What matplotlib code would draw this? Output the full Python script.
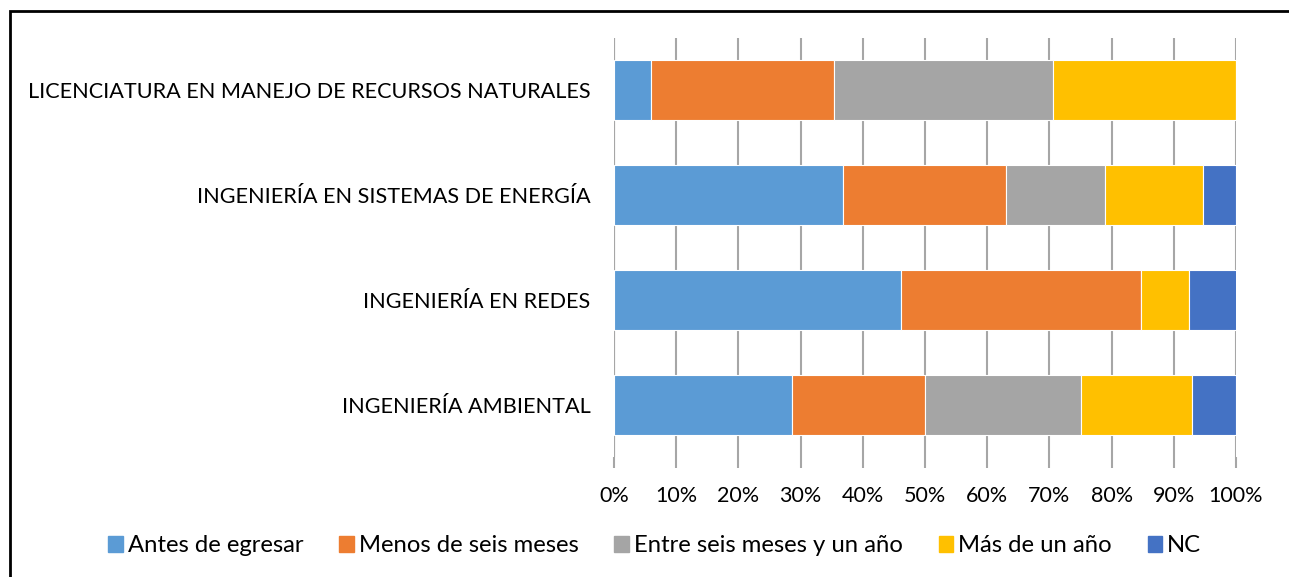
import matplotlib.pyplot as plt
import matplotlib.patches as mpatches
import numpy as np

plt.rcParams['font.family'] = ['Lato', 'DejaVu Sans']

carreras = ['INGENIERÍA AMBIENTAL', 'INGENIERÍA EN REDES',
            'INGENIERÍA EN SISTEMAS DE ENERGÍA',
            'LICENCIATURA EN MANEJO DE RECURSOS NATURALES']
series = ['Antes de egresar', 'Menos de seis meses', 'Entre seis meses y un año',
          'Más de un año', 'NC']
antes = [28.6, 46.2, 36.8, 5.9]
menos_seis = [21.4, 38.5, 26.3, 29.4]
entre = [25.0, 0.0, 15.8, 35.3]
mas_anio = [17.9, 7.7, 15.8, 29.4]
nc = [7.1, 7.7, 5.3, 0.0]
colores = ['#5B9BD5', '#ED7D31', '#A5A5A5', '#FFC000', '#4472C4']

fig = plt.figure(figsize=(12.89, 5.77), dpi=100)
ax = fig.add_axes([614/1289, 1 - 457/577, 622/1289, 419/577])

y = np.arange(len(carreras))
left = np.zeros(len(carreras))
for vals, nombre, c in zip([antes, menos_seis, entre, mas_anio, nc], series, colores):
    ax.barh(y, vals, left=left, height=0.575, color=c, edgecolor='white',
            linewidth=0.8, label=nombre, zorder=3)
    left += np.array(vals)

ax.set_xlim(0, 100)
ax.set_ylim(-0.5, 3.5)
ax.set_xticks(np.arange(0, 101, 10))
ax.set_xticklabels([f'{v}%' for v in range(0, 101, 10)], fontsize=15.5)
ax.set_yticks(y)
ax.set_yticklabels(carreras, fontsize=15.6)
ax.tick_params(axis='y', length=0, pad=17)
ax.tick_params(axis='x', length=8, color='#a6a6a6', width=1.5, pad=13)
ax.grid(axis='x', color='#a6a6a6', linewidth=1.5, zorder=0)
for s in ax.spines.values():
    s.set_visible(False)
ax.axvline(0, color='#8c8c8c', linewidth=1.5, zorder=1)

handles = [mpatches.Patch(color=c) for c in colores]
fig.legend(handles, series, loc='center', bbox_to_anchor=(0.508, 1 - 546/577),
           ncol=5, frameon=False, fontsize=17.2, handlelength=0.62, handleheight=0.62,
           handletextpad=0.2, columnspacing=1.5)

# marco exterior
fig.patches.append(mpatches.Rectangle((10/1289, -0.1), 1.2, 1 - 11/577 + 0.1,
                                      transform=fig.transFigure, fill=False,
                                      edgecolor='black', linewidth=2))

fig.savefig('out.png', dpi=100)
